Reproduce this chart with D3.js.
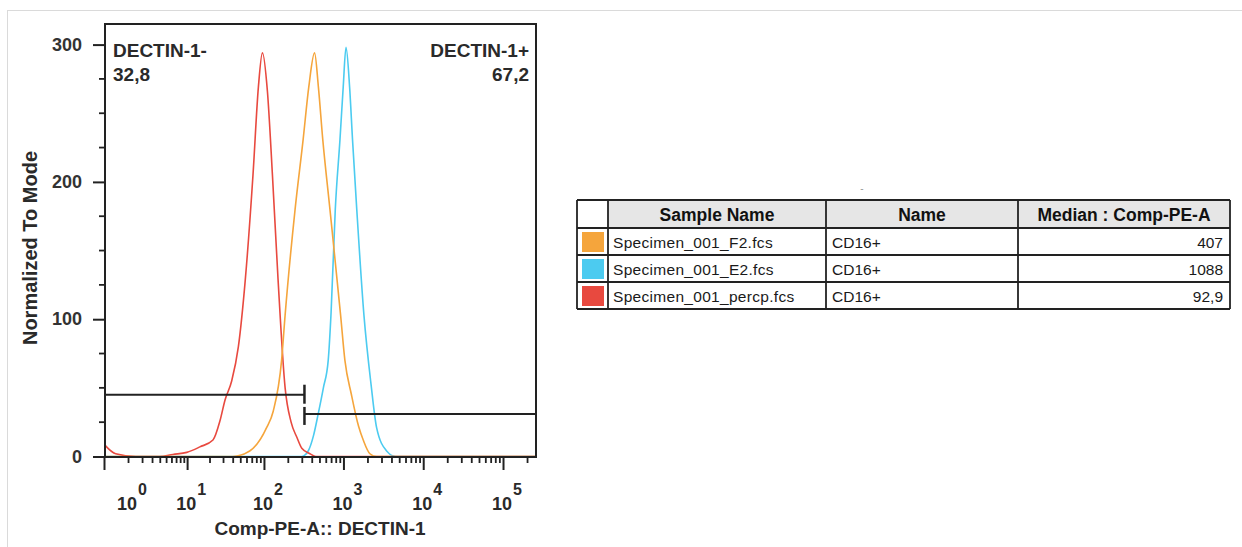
<!DOCTYPE html>
<html>
<head>
<meta charset="utf-8">
<script src="https://cdn.jsdelivr.net/npm/d3@7"></script>
<style>
  html, body { margin: 0; padding: 0; background: #fff; }
  svg { display: block; font-family: "Liberation Sans", Arial, sans-serif; }
</style>
</head>
<body>
<svg id="chart" width="1242" height="547"></svg>
<script>
// histogram values (fluorescence value / normalized count)
const f2Values = [0, 40, 66, 108, 131, 167, 185, 247, 312, 367, 434, 485, 550, 677, 921, 1043, 1260, 1548, 1771, 2148, 2600, 259000];
const f2Counts = [0, 0, 4, 21, 33, 70, 103, 180, 231, 269, 294, 269, 231, 180, 103, 70, 45, 22, 12, 2, 0, 0];

const e2Values = [0, 300, 361, 420, 482, 560, 644, 700, 790, 905, 993, 1077, 1195, 1299, 1469, 1807, 2224, 2605, 3478, 4500, 259000];
const e2Counts = [0, 0, 4, 15, 31, 50, 70, 105, 180, 231, 269, 298, 269, 231, 180, 103, 52, 21, 4, 0, 0];

const percpValues = [0, 0.4, 1.5, 4, 6.3, 9.9, 14.9, 22.2, 27.4, 31.8, 38.8, 47.3, 58, 72.6, 85, 95.6, 110.6, 128, 150.7, 185, 220, 260, 300, 380, 450, 259000];
const percpCounts = [9, 2, 0, 0, 1.5, 3, 7, 12, 26, 41, 55, 80, 129, 205, 269, 294, 266, 205, 129, 50, 25, 14, 6, 2, 0, 0];

// table
const sampleNames = ["Specimen_001_F2.fcs", "Specimen_001_E2.fcs", "Specimen_001_percp.fcs"];
const popNames = ["CD16+", "CD16+", "CD16+"];
const medians = ["407", "1088", "92,9"];
const headers = ["", "Sample Name", "Name", "Median : Comp-PE-A"];

// gates
const gateNames = ["DECTIN-1-", "DECTIN-1+"];
const gatePcts = ["32,8", "67,2"];
const gateFrom = [0, 324];
const gateTo = [324, 259000];
const gateLevel = [45, 31];

const yTicks = [0, 100, 200, 300];
const xTickExp = [0, 1, 2, 3, 4, 5];

const sampleColors = ["#f5a53c", "#4ccbf0", "#e8493f"];

const svg = d3.select("#chart");

// faint page border
svg.append("rect")
  .attr("x", 7.5).attr("y", 10.5)
  .attr("width", 1240).attr("height", 560)
  .attr("fill", "none").attr("stroke", "#dadada");

const frame = {left: 105, right: 536, top: 24, bottom: 457};

const x = d3.scaleSymlog().constant(1)
  .domain([0, 259000])
  .range([104, 536]);

const y = d3.scaleLinear()
  .domain([0, 315])
  .range([456.5, 24]);

const line = d3.line()
  .x(d => x(d[0]))
  .y(d => y(d[1]))
  .curve(d3.curveMonotoneX);

const series = [
  {vals: e2Values, counts: e2Counts, color: sampleColors[1]},
  {vals: percpValues, counts: percpCounts, color: sampleColors[2]},
  {vals: f2Values, counts: f2Counts, color: sampleColors[0]}
];

const plot = svg.append("g");
plot.append("clipPath").attr("id", "clip")
  .append("rect")
  .attr("x", frame.left).attr("y", frame.top)
  .attr("width", frame.right - frame.left).attr("height", frame.bottom - frame.top);

plot.append("g").attr("clip-path", "url(#clip)")
  .selectAll("path")
  .data(series)
  .enter().append("path")
    .attr("d", s => line(s.vals.map((v, i) => [v, s.counts[i]])))
    .attr("fill", "none")
    .attr("stroke", s => s.color)
    .attr("stroke-width", 1.6);

// gates
const gateG = plot.append("g").attr("stroke", "#222").attr("stroke-width", 2);
gateNames.forEach((n, i) => {
  gateG.append("line")
    .attr("x1", Math.max(x(gateFrom[i]), frame.left)).attr("x2", Math.min(x(gateTo[i]), frame.right))
    .attr("y1", y(gateLevel[i])).attr("y2", y(gateLevel[i]));
});
// end caps on the shared boundary
gateG.append("line")
  .attr("x1", x(gateTo[0])).attr("x2", x(gateTo[0]))
  .attr("y1", y(gateLevel[0]) - 10).attr("y2", y(gateLevel[0]) + 9)
  .attr("stroke-width", 2.5);
gateG.append("line")
  .attr("x1", x(gateFrom[1])).attr("x2", x(gateFrom[1]))
  .attr("y1", y(gateLevel[1]) - 7).attr("y2", y(gateLevel[1]) + 11)
  .attr("stroke-width", 2.5);

// gate labels
const gl = plot.append("g")
  .attr("font-size", 19).attr("font-weight", "bold").attr("fill", "#2a2a2a");
gl.append("text").attr("x", 113).attr("y", 57).text(gateNames[0]);
gl.append("text").attr("x", 113).attr("y", 81).text(gatePcts[0]);
gl.append("text").attr("x", 529).attr("y", 57).attr("text-anchor", "end").text(gateNames[1]);
gl.append("text").attr("x", 529).attr("y", 81).attr("text-anchor", "end").text(gatePcts[1]);

// frame
plot.append("rect")
  .attr("x", frame.left).attr("y", frame.top)
  .attr("width", frame.right - frame.left).attr("height", frame.bottom - frame.top)
  .attr("fill", "none").attr("stroke", "#222").attr("stroke-width", 2);

// y axis
const yMinor = d3.range(0, 301, 25);
const yAxis = d3.axisLeft(y).tickValues(yTicks).tickSize(12).tickPadding(11).tickFormat(d3.format("d"));
const yg = svg.append("g").attr("transform", `translate(${frame.left},0)`).call(yAxis);
yg.select(".domain").remove();
yg.selectAll(".tick line").attr("stroke", "#222").attr("stroke-width", 2);
yg.selectAll(".tick text")
  .attr("font-size", 18).attr("font-weight", "bold").attr("fill", "#333")
  .attr("font-family", "Liberation Sans, Arial, sans-serif");
svg.append("g").selectAll("line")
  .data(yMinor.filter(v => !yTicks.includes(v)))
  .enter().append("line")
    .attr("x1", frame.left - 6).attr("x2", frame.left)
    .attr("y1", d => y(d)).attr("y2", d => y(d))
    .attr("stroke", "#222").attr("stroke-width", 1.8);

// x axis: long ticks at 0 and each decade, short ones in between
const xMajor = [0].concat(d3.range(1, 6).map(e => Math.pow(10, e)));
const xMinor = [];
for (let e = 0; e <= 5; e++) {
  for (let m = 1; m <= 9; m++) {
    const v = m * Math.pow(10, e);
    if (!xMajor.includes(v) && v < 259000) xMinor.push(v);
  }
}
const xAxisMajor = d3.axisBottom(x).tickValues(xMajor).tickSize(13).tickFormat("");
const xg = svg.append("g").attr("transform", `translate(0,${frame.bottom})`).call(xAxisMajor);
xg.select(".domain").remove();
xg.selectAll(".tick line").attr("stroke", "#222").attr("stroke-width", 2);
const xAxisMinor = d3.axisBottom(x).tickValues(xMinor).tickSize(6).tickFormat("");
const xg2 = svg.append("g").attr("transform", `translate(0,${frame.bottom})`).call(xAxisMinor);
xg2.select(".domain").remove();
xg2.selectAll(".tick line").attr("stroke", "#222").attr("stroke-width", 1.8);

const xl = svg.append("g").attr("font-weight", "bold").attr("fill", "#2a2a2a");
xTickExp.forEach(e => {
  const t = xl.append("text")
    .attr("x", x(Math.pow(10, e)) + 4).attr("y", 510)
    .attr("text-anchor", "middle").attr("font-size", 18);
  t.append("tspan").text("10");
  t.append("tspan").attr("dy", -15).attr("dx", 1).attr("font-size", 16).text(e);
});

// axis titles
svg.append("text")
  .attr("x", 320).attr("y", 535)
  .attr("text-anchor", "middle")
  .attr("font-size", 19).attr("font-weight", "bold").attr("fill", "#2a2a2a")
  .text("Comp-PE-A:: DECTIN-1");
svg.append("text")
  .attr("transform", "translate(37,248) rotate(-90)")
  .attr("text-anchor", "middle")
  .attr("font-size", 20).attr("font-weight", "bold").attr("fill", "#2a2a2a")
  .text("Normalized To Mode");

// small stray mark above the table
svg.append("text").attr("x", 862).attr("y", 192).attr("text-anchor", "middle")
  .attr("font-size", 10).attr("fill", "#999").text("-");

// table
const colEdges = [577, 608, 826, 1018, 1230];
const rowEdges = [200, 228, 255, 282, 309];
const tbl = svg.append("g");

tbl.append("rect")
  .attr("x", colEdges[1]).attr("y", rowEdges[0])
  .attr("width", colEdges[4] - colEdges[1]).attr("height", rowEdges[1] - rowEdges[0])
  .attr("fill", "#e6e6e6");

tbl.selectAll("rect.sw")
  .data(sampleNames)
  .enter().append("rect")
    .attr("class", "sw")
    .attr("x", colEdges[0] + 5)
    .attr("y", (d, i) => rowEdges[i + 1] + 4)
    .attr("width", colEdges[1] - colEdges[0] - 9)
    .attr("height", (d, i) => rowEdges[i + 2] - rowEdges[i + 1] - 7)
    .attr("fill", (d, i) => sampleColors[i]);

tbl.selectAll("text.hd")
  .data(headers)
  .enter().append("text")
    .attr("class", "hd")
    .attr("x", (d, i) => (colEdges[i] + colEdges[i + 1]) / 2)
    .attr("y", rowEdges[0] + 21)
    .attr("text-anchor", "middle")
    .attr("font-size", 17.5).attr("font-weight", "bold").attr("fill", "#111")
    .text(d => d);

const rows = tbl.selectAll("g.row")
  .data(sampleNames)
  .enter().append("g")
    .attr("class", "row")
    .attr("font-size", 15.5).attr("fill", "#1a1a1a");
rows.append("text")
  .attr("x", colEdges[1] + 5)
  .attr("y", (d, i) => rowEdges[i + 1] + 20)
  .attr("letter-spacing", 0.3)
  .text(d => d);
rows.append("text")
  .attr("x", colEdges[2] + 6)
  .attr("y", (d, i) => rowEdges[i + 1] + 20)
  .text((d, i) => popNames[i]);
rows.append("text")
  .attr("x", colEdges[4] - 7)
  .attr("y", (d, i) => rowEdges[i + 1] + 20)
  .attr("text-anchor", "end")
  .text((d, i) => medians[i]);

// grid lines
tbl.selectAll("line.h")
  .data(rowEdges)
  .enter().append("line")
    .attr("class", "h")
    .attr("x1", colEdges[0]).attr("x2", colEdges[4])
    .attr("y1", d => d).attr("y2", d => d)
    .attr("stroke", "#222").attr("stroke-width", 1.8);
tbl.selectAll("line.v")
  .data(colEdges)
  .enter().append("line")
    .attr("class", "v")
    .attr("x1", d => d).attr("x2", d => d)
    .attr("y1", rowEdges[0]).attr("y2", rowEdges[4])
    .attr("stroke", "#222").attr("stroke-width", 1.8);
</script>
</body>
</html>
